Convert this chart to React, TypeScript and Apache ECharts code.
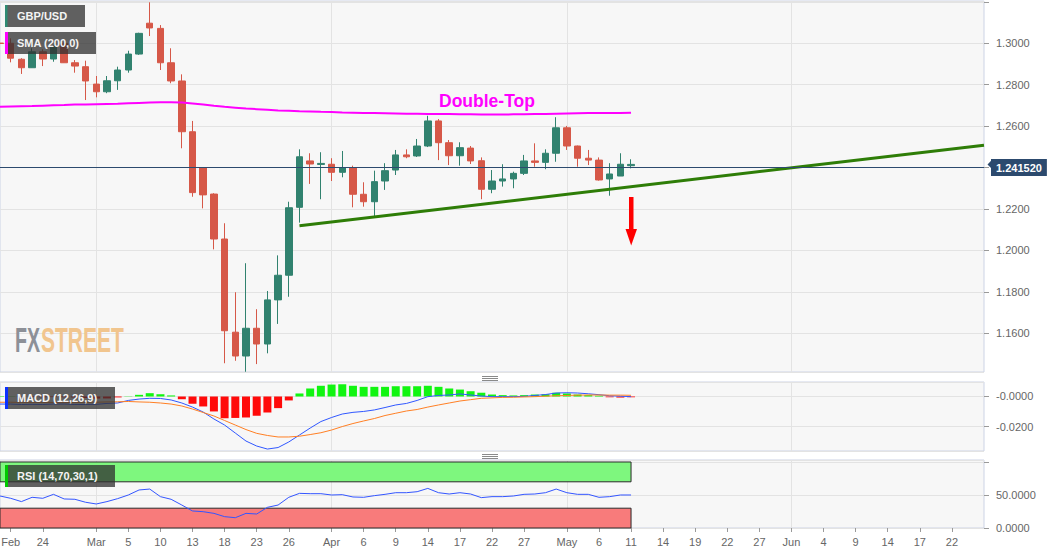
import React, { useEffect, useRef } from 'react';
import * as echarts from 'echarts';

// ---------- categories / axis labels ----------
const N_CATS = 93;
const categories = Array.from({ length: N_CATS }, (_, i) => String(i));
const tickIdx = [1, 4, 9, 12, 15, 18, 21, 24, 27, 31, 34, 37, 40, 43, 46, 49, 53, 56, 59, 62, 65, 68, 71, 74, 77, 80, 83, 86, 89];
const tickText = ['Feb', '24', 'Mar', '5', '10', '13', '18', '23', '26', 'Apr', '6', '9', '14', '17', '22', '27', 'May', '6', '11', '14', '19', '22', '27', 'Jun', '4', '9', '14', '17', '22'];
const monthIdx = [9, 31, 53, 74];

// ---------- GBP/USD daily candles ----------
const open = [1.3001, 1.3000, 1.2923, 1.2882, 1.2959, 1.2924, 1.3000, 1.2906, 1.2887, 1.2803, 1.2766, 1.2819, 1.2871, 1.2948, 1.3097, 1.3072, 1.2906, 1.2818, 1.2573, 1.2399, 1.2272, 1.2055, 1.1605, 1.1490, 1.1624, 1.1548, 1.1761, 1.1880, 1.2208, 1.2432, 1.2415, 1.2416, 1.2377, 1.2399, 1.2271, 1.2235, 1.2335, 1.2388, 1.2461, 1.2456, 1.2504, 1.2625, 1.2520, 1.2457, 1.2494, 1.2433, 1.2295, 1.2335, 1.2345, 1.2372, 1.2432, 1.2425, 1.2469, 1.2592, 1.2504, 1.2445, 1.2436, 1.2345, 1.2359, 1.2409];
const close = [1.2999, 1.2928, 1.2882, 1.2959, 1.2924, 1.2984, 1.2906, 1.2890, 1.2818, 1.2766, 1.2819, 1.2871, 1.2948, 1.3048, 1.3074, 1.2906, 1.2818, 1.2573, 1.2279, 1.2268, 1.2055, 1.1612, 1.1490, 1.1624, 1.1548, 1.1761, 1.1880, 1.2206, 1.2452, 1.2417, 1.2420, 1.2377, 1.2399, 1.2271, 1.2235, 1.2332, 1.2385, 1.2461, 1.2452, 1.2504, 1.2625, 1.2520, 1.2457, 1.2496, 1.2432, 1.2295, 1.2335, 1.2345, 1.2372, 1.2432, 1.2425, 1.2469, 1.2592, 1.2504, 1.2445, 1.2436, 1.2340, 1.2369, 1.2416, 1.24152];
const high = [1.3016, 1.3024, 1.2928, 1.2976, 1.2971, 1.2992, 1.3003, 1.2919, 1.2916, 1.2842, 1.2842, 1.2887, 1.2964, 1.3051, 1.3198, 1.3088, 1.2976, 1.2850, 1.2625, 1.2402, 1.2276, 1.2131, 1.1798, 1.1938, 1.1716, 1.1804, 1.1976, 1.2235, 1.2488, 1.2469, 1.2474, 1.2445, 1.2480, 1.2409, 1.2329, 1.2385, 1.2421, 1.2485, 1.2488, 1.2538, 1.2650, 1.2634, 1.2533, 1.2522, 1.2504, 1.2449, 1.2388, 1.2416, 1.2380, 1.2461, 1.2517, 1.2488, 1.2643, 1.2601, 1.2506, 1.2485, 1.2449, 1.2421, 1.2469, 1.2440];
const low = [1.2982, 1.2908, 1.2852, 1.2881, 1.2890, 1.2911, 1.2905, 1.2858, 1.2726, 1.2739, 1.2759, 1.2775, 1.2858, 1.2944, 1.3035, 1.2871, 1.2807, 1.2493, 1.2259, 1.2203, 1.2005, 1.1455, 1.1467, 1.1414, 1.1451, 1.1503, 1.1645, 1.1776, 1.2134, 1.2321, 1.2247, 1.2335, 1.2353, 1.2208, 1.2211, 1.2166, 1.2292, 1.2364, 1.2445, 1.2451, 1.2499, 1.2436, 1.2412, 1.2409, 1.2417, 1.2247, 1.2276, 1.2308, 1.2300, 1.2364, 1.2404, 1.2392, 1.2428, 1.2485, 1.2404, 1.2412, 1.2337, 1.2264, 1.2359, 1.2396];

// ---------- SMA (200) ----------
const sma200 = [1.2694, 1.2695, 1.2696, 1.2697, 1.2699, 1.2701, 1.2702, 1.2704, 1.2705, 1.2706, 1.2707, 1.2708, 1.2710, 1.2712, 1.2714, 1.2715, 1.2715, 1.2714, 1.2709, 1.2704, 1.2698, 1.2693, 1.2689, 1.2685, 1.2682, 1.2679, 1.2676, 1.2674, 1.2672, 1.2671, 1.2669, 1.2668, 1.2666, 1.2665, 1.2664, 1.2663, 1.2662, 1.2661, 1.2660, 1.2660, 1.2659, 1.2658, 1.2658, 1.2657, 1.2657, 1.2656, 1.2656, 1.2656, 1.2657, 1.2657, 1.2658, 1.2659, 1.2660, 1.2661, 1.2662, 1.2663, 1.2664, 1.2664, 1.2664, 1.2665];

// ---------- trend line & last price ----------
const trendLine = [[28, 1.2119], [92, 1.2508]];
const lastPrice = 1.24152;

// ---------- MACD (12,26,9) ----------
const macdHist = [0.0003, 0.0002, -0.0003, -0.0004, -0.0005, -0.0004, -0.0005, -0.0006, -0.0010, -0.0014, -0.0013, -0.0006, 0.0002, 0.0011, 0.0022, 0.0015, 0.0007, -0.0018, -0.0048, -0.0066, -0.0099, -0.0144, -0.0142, -0.0139, -0.0128, -0.0106, -0.0077, -0.0026, 0.0020, 0.0053, 0.0071, 0.0079, 0.0081, 0.0071, 0.0064, 0.0064, 0.0064, 0.0068, 0.0068, 0.0068, 0.0071, 0.0064, 0.0053, 0.0046, 0.0035, 0.0025, 0.0013, 0.0009, 0.0007, 0.0009, 0.0013, 0.0015, 0.0025, 0.0020, 0.0013, 0.0009, 0.0005, -0.0005, -0.0007, -0.0005];
const macdLine = [-0.0050, -0.0050, -0.0053, -0.0052, -0.0053, -0.0050, -0.0050, -0.0053, -0.0053, -0.0052, -0.0046, -0.0043, -0.0026, -0.0017, -0.0012, -0.0013, -0.0023, -0.0043, -0.0070, -0.0103, -0.0149, -0.0189, -0.0242, -0.0295, -0.0328, -0.0348, -0.0338, -0.0301, -0.0255, -0.0209, -0.0166, -0.0139, -0.0116, -0.0105, -0.0099, -0.0089, -0.0073, -0.0056, -0.0046, -0.0026, -0.0001, 0.0007, 0.0010, 0.0017, 0.0010, 0.0003, -0.0001, -0.0001, -0.0001, 0.0001, 0.0007, 0.0013, 0.0023, 0.0025, 0.0023, 0.0018, 0.0012, 0.0005, 0.0002, -0.0001];
const signalLine = [-0.0038, -0.0038, -0.0039, -0.0039, -0.0040, -0.0040, -0.0040, -0.0040, -0.0039, -0.0038, -0.0036, -0.0035, -0.0033, -0.0036, -0.0038, -0.0043, -0.0050, -0.0063, -0.0083, -0.0106, -0.0129, -0.0159, -0.0189, -0.0219, -0.0244, -0.0258, -0.0268, -0.0268, -0.0263, -0.0252, -0.0240, -0.0222, -0.0199, -0.0179, -0.0162, -0.0146, -0.0126, -0.0111, -0.0096, -0.0086, -0.0070, -0.0056, -0.0043, -0.0030, -0.0021, -0.0012, -0.0009, -0.0006, -0.0005, -0.0003, -0.0001, 0.0002, 0.0005, 0.0007, 0.0009, 0.0010, 0.0010, 0.0009, 0.0009, 0.0008];

// ---------- RSI (14) ----------
const rsi = [48.5, 45, 40, 46.5, 45, 51, 44, 43.5, 39, 36.4, 40, 44.5, 50, 57.6, 59, 47.5, 43.5, 34.8, 25.8, 24.7, 22.2, 17.2, 15.6, 22.2, 21.2, 31.3, 34.8, 46.5, 52.5, 52, 52, 50, 50.5, 47, 46.5, 49, 51, 53.5, 53.5, 55, 60, 53.5, 51.5, 53.5, 51.5, 46, 47.5, 47.5, 48.5, 51, 51.5, 53.5, 59, 53.5, 51, 51, 46.5, 47.5, 50, 50];
const rsiUpper = 70;
const rsiLower = 30;

// axis ranges
const priceMin = 1.14128;
const priceMax = 1.32042;
const macdMin = -0.03609;
const macdMax = 0.0096;
const rsiMax = 103.03;

const FONT = '"Liberation Sans", Arial, sans-serif';
const UP = '#31826f';
const DOWN = '#d65848';
const PANEL_BG = '#f7f7f7';
const PANEL_BORDER = '#ccd3e5';
const GRID_LINE = '#e3e3e3';
const NAVY = '#2c4a6e';

function legendBox(x: number, y: number, w: number, label: string, barColor: string, barW = 3) {
  return {
    type: 'group',
    z: 100,
    children: [
      { type: 'rect', z: 100, shape: { x, y, width: w, height: 22 }, style: { fill: 'rgba(48,48,48,0.76)' } },
      { type: 'rect', z: 101, shape: { x, y, width: barW, height: 22 }, style: { fill: barColor } },
      {
        type: 'text', z: 102, x: x + 12, y: y + 11,
        style: { text: label, fill: '#f4f4f4', font: `bold 11px ${FONT}`, align: 'left', verticalAlign: 'middle' },
      },
    ],
  };
}

function handle(y: number) {
  return {
    type: 'group',
    z: 100,
    children: [0, 2, 4].map((d) => ({
      type: 'line', z: 100,
      shape: { x1: 482, y1: y + d, x2: 498, y2: y + d },
      style: { stroke: '#8a8a8a', lineWidth: 1 },
    })),
  };
}

const near = (a: number, b: number, eps: number) => Math.abs(a - b) < eps;

export default function App() {
  const ref = useRef<HTMLDivElement>(null);

  useEffect(() => {
    if (!ref.current) return;
    const chart = echarts.init(ref.current, undefined, { renderer: 'svg' });

    const tickMap: Record<number, string> = {};
    tickIdx.forEach((k, i) => { tickMap[k] = tickText[i]; });

    const gridBase = {
      left: 0, width: 984, show: true, backgroundColor: PANEL_BG,
      borderColor: PANEL_BORDER, borderWidth: 1, containLabel: false, outerBoundsMode: 'none',
    };

    const xAxisBase = (gridIndex: number, showLabels: boolean) => ({
      type: 'category',
      gridIndex,
      data: categories,
      boundaryGap: false,
      axisLine: { show: false },
      axisTick: showLabels
        ? { show: true, length: 4, interval: (idx: number) => tickMap[idx] !== undefined, lineStyle: { color: '#9a9a9a' } }
        : { show: false },
      axisLabel: showLabels
        ? { show: true, interval: 0, margin: 8, color: '#666', fontSize: 11, fontFamily: FONT, formatter: (_v: string, idx: number) => tickMap[idx] ?? '' }
        : { show: false },
      splitLine: { show: true, interval: (idx: number) => monthIdx.includes(idx), lineStyle: { color: GRID_LINE, width: 1 } },
    });

    const yAxisBase = {
      position: 'right',
      axisLine: { show: false },
      axisTick: { show: true, length: 5, lineStyle: { color: '#9a9a9a' } },
      splitLine: { show: true, lineStyle: { color: GRID_LINE, width: 1 } },
    };

    const labelBase = { color: '#666', fontSize: 11, fontFamily: FONT, margin: 12 };

    const candleData = open.map((o, i) => [o, close[i], low[i], high[i]]);

    chart.setOption({
      animation: false,
      backgroundColor: '#ffffff',
      textStyle: { fontFamily: FONT },
      grid: [
        { ...gridBase, top: 1, height: 371 },
        { ...gridBase, top: 382, height: 69 },
        { ...gridBase, top: 460, height: 68 },
      ],
      xAxis: [xAxisBase(0, false), xAxisBase(1, false), xAxisBase(2, true)],
      yAxis: [
        {
          ...yAxisBase, type: 'value', gridIndex: 0, scale: true,
          min: priceMin, max: priceMax, splitNumber: 9,
          axisLabel: {
            ...labelBase, showMinLabel: false, showMaxLabel: false,
            formatter: (v: number) =>
              (near(v, 1.24, 1e-6) || near(v, 1.32, 1e-6) || near(v, priceMin, 1e-6) || near(v, priceMax, 1e-6) ? '' : v.toFixed(4)),
          },
        },
        {
          ...yAxisBase, type: 'value', gridIndex: 1,
          min: macdMin, max: macdMax, splitNumber: 2,
          axisLabel: {
            ...labelBase, showMinLabel: false, showMaxLabel: false,
            formatter: (v: number) => (near(v, 0, 1e-9) ? '-0.0000' : near(v, -0.02, 1e-9) ? '-0.0200' : ''),
          },
        },
        {
          ...yAxisBase, type: 'value', gridIndex: 2,
          min: 0, max: rsiMax, splitNumber: 2,
          axisLabel: {
            ...labelBase, showMinLabel: true, showMaxLabel: false,
            formatter: (v: number) => (v === 0 || v === 50 ? v.toFixed(4) : ''),
          },
        },
      ],
      series: [
        {
          type: 'candlestick',
          name: 'GBP/USD',
          xAxisIndex: 0, yAxisIndex: 0,
          data: candleData,
          barWidth: 7,
          clip: true,
          itemStyle: { color: UP, color0: DOWN, borderColor: UP, borderColor0: DOWN, borderWidth: 1 },
          markLine: {
            silent: true,
            symbol: ['none', 'none'],
            data: [{ yAxis: lastPrice }],
            lineStyle: { color: NAVY, width: 1, type: 'solid' },
            label: {
              show: true, position: 'end', distance: 7,
              formatter: () => lastPrice.toFixed(6),
              color: '#ffffff', fontWeight: 'bold', fontSize: 11, fontFamily: FONT,
              backgroundColor: NAVY, padding: [3, 5, 3, 5],
            },
          },
        },
        {
          type: 'line', name: 'SMA (200,0)', xAxisIndex: 0, yAxisIndex: 0,
          data: sma200, symbol: 'none', lineStyle: { color: '#ff00ff', width: 2 }, z: 3,
        },
        {
          type: 'line', name: 'trend', xAxisIndex: 0, yAxisIndex: 0,
          data: trendLine, symbol: 'none', lineStyle: { color: '#2e7d07', width: 3 }, z: 4,
        },
        {
          type: 'bar', name: 'hist', xAxisIndex: 1, yAxisIndex: 1,
          data: macdHist, barWidth: 8,
          itemStyle: { color: (p: any) => (p.value >= 0 ? '#11f511' : '#ff0a0a') },
        },
        {
          type: 'line', name: 'MACD', xAxisIndex: 1, yAxisIndex: 1,
          data: macdLine, symbol: 'none', lineStyle: { color: '#3057ff', width: 1 },
        },
        {
          type: 'line', name: 'signal', xAxisIndex: 1, yAxisIndex: 1,
          data: signalLine, symbol: 'none', lineStyle: { color: '#ff7f24', width: 1 },
        },
        {
          type: 'line', name: 'RSI', xAxisIndex: 2, yAxisIndex: 2,
          data: rsi, symbol: 'none', lineStyle: { color: '#3355ff', width: 1 }, z: 5,
          markArea: {
            silent: true,
            data: [
              [
                { xAxis: 0, yAxis: rsiUpper, itemStyle: { color: '#7ef77e', borderColor: '#2a2a2a', borderWidth: 1 } },
                { xAxis: rsi.length - 1, yAxis: 100 },
              ],
              [
                { xAxis: 0, yAxis: 0, itemStyle: { color: '#f87b7b', borderColor: '#2a2a2a', borderWidth: 1 } },
                { xAxis: rsi.length - 1, yAxis: rsiLower },
              ],
            ],
          },
        },
      ],
      graphic: [
        legendBox(5, 5, 80, 'GBP/USD', '#2e8b73', 2.5),
        legendBox(5, 32, 91, 'SMA (200,0)', '#ff00ff'),
        legendBox(5, 387, 110, 'MACD (12,26,9)', '#0a30ff'),
        legendBox(5, 465, 110, 'RSI (14,70,30,1)', '#00c800'),
        {
          type: 'text', z: 100, x: 15, y: 340, scaleX: 0.56,
          style: { text: 'FX', fill: '#8d9097', font: `bold 35px ${FONT}`, align: 'left', verticalAlign: 'middle' },
        },
        {
          type: 'text', z: 100, x: 41, y: 340, scaleX: 0.6,
          style: { text: 'STREET', fill: '#f1c58e', font: `bold 35px ${FONT}`, align: 'left', verticalAlign: 'middle' },
        },
        {
          type: 'text', z: 100, x: 439, y: 100.5,
          style: { text: 'Double-Top', fill: '#ff00ff', font: `bold 17.5px ${FONT}`, align: 'left', verticalAlign: 'middle' },
        },
        { type: 'rect', z: 100, shape: { x: 629, y: 197, width: 4.5, height: 33 }, style: { fill: '#ff0000' } },
        { type: 'polygon', z: 100, shape: { points: [[625.5, 229], [637, 229], [631.2, 245.5]] }, style: { fill: '#ff0000' } },
        { type: 'polygon', z: 100, shape: { points: [[987.5, 164.4], [991.5, 160.2], [991.5, 168.6]] }, style: { fill: NAVY } },
        handle(376.5),
        handle(454.5),
      ],
    });

    return () => chart.dispose();
  }, []);

  return <div ref={ref} style={{ position: 'fixed', left: 0, top: 0, width: 1060, height: 555 }} />;
}
